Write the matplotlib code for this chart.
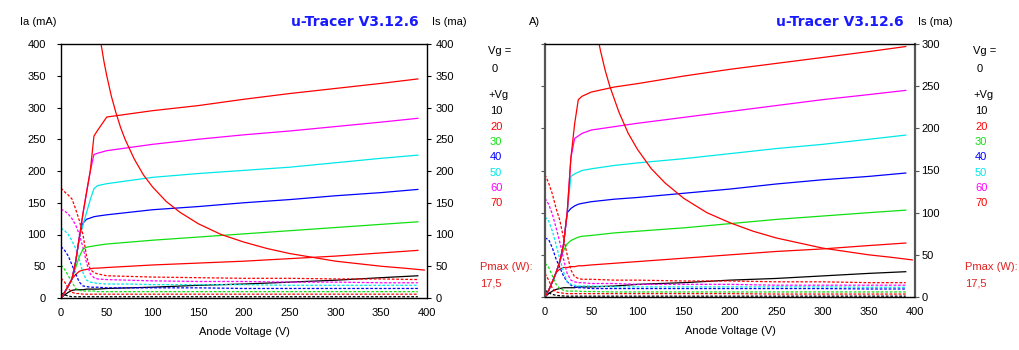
import matplotlib
matplotlib.use("Agg")
import matplotlib.pyplot as plt

plt.rcParams['font.family'] = ['Liberation Sans', 'DejaVu Sans']

W, H = 1019, 350

# ---------------------------------------------------------------
# data
# ---------------------------------------------------------------
VA = [0, 4, 8, 12, 16, 20, 24, 28, 32, 36, 40, 50, 75, 100, 150, 200, 250, 300, 350, 390]

# left tube: anode current Ia (mA), one list per grid step
A_IA_10 = [0, 5, 9, 12, 13, 13, 13, 14, 14, 14, 14, 15, 16, 17, 20, 22, 25, 28, 32, 35]
A_IA_20 = [0, 9, 19, 30, 37, 42, 44, 45, 46, 47, 47, 48, 50, 52, 55, 58, 62, 66, 71, 75]
A_IA_30 = [0, 9, 19, 30, 48, 65, 77, 80, 81, 82, 83, 85, 88, 91, 96, 101, 106, 111, 116, 120]
A_IA_40 = [0, 9, 19, 30, 57, 95, 118, 124, 126, 128, 129, 131, 135, 139, 144, 150, 155, 161, 166, 171]
A_IA_50 = [0, 9, 19, 30, 57, 95, 115, 135, 155, 172, 177, 180, 185, 190, 196, 201, 206, 213, 220, 225]
A_IA_60 = [0, 9, 19, 30, 57, 95, 133, 167, 200, 226, 228, 232, 237, 242, 250, 257, 263, 270, 277, 283]
A_IA_70 = [0, 9, 19, 30, 57, 95, 133, 167, 200, 255, 264, 285, 290, 295, 303, 313, 322, 330, 338, 345]

# left tube: screen current Is (mA)
A_IS_10 = [8, 5, 3, 2, 2, 2, 2, 2, 2, 2, 2, 2, 2, 2, 2, 2, 2, 2, 2, 2]
A_IS_20 = [31, 25, 15, 9, 7, 7, 6, 6, 6, 6, 6, 6, 6, 6, 6, 6, 6, 6, 6, 6]
A_IS_30 = [52, 45, 35, 25, 15, 12, 11, 11, 11, 11, 10, 10, 10, 10, 10, 10, 10, 10, 10, 10]
A_IS_40 = [81, 75, 66, 52, 38, 25, 19, 18, 17, 17, 17, 16, 16, 16, 16, 15, 15, 15, 15, 15]
A_IS_50 = [110, 106, 100, 90, 78, 60, 40, 28, 25, 24, 23, 22, 22, 21, 21, 21, 20, 20, 20, 20]
A_IS_60 = [140, 137, 132, 125, 115, 100, 80, 55, 38, 32, 30, 29, 28, 27, 26, 26, 25, 25, 24, 24]
A_IS_70 = [173, 167, 162, 156, 140, 122, 100, 65, 45, 40, 38, 35, 34, 33, 32, 31, 31, 30, 30, 29]

# right tube: anode current Ia (mA)
B_IA_10 = [0, 4, 7, 9, 10, 11, 11, 11, 11, 12, 12, 12, 13, 15, 17, 20, 22, 25, 28, 30]
B_IA_20 = [0, 8, 18, 29, 33, 35, 35, 36, 36, 37, 37, 38, 40, 42, 46, 50, 54, 57, 61, 64]
B_IA_30 = [0, 8, 18, 29, 42, 55, 63, 67, 69, 71, 72, 73, 76, 78, 82, 87, 92, 96, 100, 103]
B_IA_40 = [0, 8, 18, 29, 42, 62, 100, 105, 108, 110, 111, 113, 116, 118, 123, 128, 134, 139, 143, 147]
B_IA_50 = [0, 8, 18, 29, 42, 62, 100, 143, 146, 148, 150, 152, 156, 159, 164, 170, 176, 181, 187, 192]
B_IA_60 = [0, 8, 18, 29, 42, 62, 100, 165, 188, 191, 194, 198, 202, 206, 213, 220, 227, 234, 240, 245]
B_IA_70 = [0, 8, 18, 29, 42, 62, 100, 165, 205, 234, 238, 243, 249, 253, 262, 270, 277, 284, 291, 297]

# right tube: screen current Is (mA)
B_IS_10 = [8, 5, 3, 2, 1.5, 1.2, 1, 1, 1, 1, 1, 1, 1, 1, 1, 1, 1, 1, 1, 1]
B_IS_20 = [28, 20, 10, 6, 5, 4.5, 4, 4, 4, 4, 4, 4, 4, 4, 4, 4, 3.5, 3.5, 3.5, 3.5]
B_IS_30 = [40, 35, 25, 15, 10, 8, 7, 7, 7, 7, 6.5, 6.5, 6, 6, 6, 6, 6, 6, 6, 6]
B_IS_40 = [70, 68, 58, 45, 35, 25, 18, 14, 12, 11, 11, 10, 10, 10, 10, 10, 10, 10, 9.5, 9.5]
B_IS_50 = [95, 90, 78, 62, 45, 30, 18, 15, 14, 13, 13, 13, 12, 12, 12, 12, 12, 12, 11.5, 11.5]
B_IS_60 = [117, 110, 98, 82, 65, 45, 28, 20, 18, 17, 17, 16, 16, 15, 15, 15, 14, 14, 14, 14]
B_IS_70 = [145, 135, 122, 105, 91, 70, 50, 32, 24, 22, 21, 21, 20, 20, 19, 19, 18, 18, 17, 17]

# Pmax = 17,5 W limit curve
PMAX_V = [44, 47, 50, 55, 60, 65, 70, 80, 90, 100, 115, 130, 150, 175, 200, 225, 250, 275, 300, 325, 350, 375, 397]
PMAX_I = [398, 372, 350, 318, 292, 269, 250, 219, 194, 175, 152, 135, 117, 100, 88, 78, 70, 64, 58, 54, 50, 47, 44]

GRID_STEPS = ['10', '20', '30', '40', '50', '60', '70']
COLORS = ['#000000', '#ff0000', '#10e010', '#0000ff', '#00e8e8', '#ff00ff', '#ff0000']

A_IA = [A_IA_10, A_IA_20, A_IA_30, A_IA_40, A_IA_50, A_IA_60, A_IA_70]
A_IS = [A_IS_10, A_IS_20, A_IS_30, A_IS_40, A_IS_50, A_IS_60, A_IS_70]
B_IA = [B_IA_10, B_IA_20, B_IA_30, B_IA_40, B_IA_50, B_IA_60, B_IA_70]
B_IS = [B_IS_10, B_IS_20, B_IS_30, B_IS_40, B_IS_50, B_IS_60, B_IS_70]


def fx(x):
    return x / W


def fy(y):
    return 1 - y / H


def draw_panel(ax, ia_list, is_list, ymax, spine_col, show_left_labels):
    for ia, isc, c in zip(ia_list, is_list, COLORS):
        ax.plot(VA, ia, color=c, lw=0.9)
        ax.plot(VA, isc, color=c, lw=0.9, dashes=(2.2, 1.4))
    ax.plot(PMAX_V, PMAX_I, color='#ff0000', lw=0.9)

    ax.set_xlim(0, 400)
    ax.set_ylim(0, ymax)
    ax.set_xticks(range(0, 401, 50))
    ax.set_yticks(range(0, ymax + 1, 50))
    ax.tick_params(axis='x', length=0, pad=7, labelsize=8)
    ax.tick_params(axis='y', direction='out', length=3, pad=8, labelsize=8)
    if not show_left_labels:
        ax.set_yticklabels([])
    ax.set_xlabel('Anode Voltage (V)', fontsize=8, labelpad=7)

    for s in ax.spines.values():
        s.set_color('black')
        s.set_linewidth(1.0)
    ax.spines['left'].set_color(spine_col)
    ax.spines['right'].set_color(spine_col)
    if spine_col != 'black':
        ax.spines['left'].set_linewidth(1.6)
        ax.spines['right'].set_linewidth(1.6)

    ax2 = ax.twinx()
    ax2.set_ylim(0, ymax)
    ax2.set_yticks(range(0, ymax + 1, 50))
    ax2.tick_params(axis='y', direction='out', length=3,
                    pad=3 if show_left_labels else 1.5, labelsize=8)
    for s in ax2.spines.values():
        s.set_visible(False)
    ax.tick_params(axis='y', colors=spine_col, labelcolor='black')
    ax2.tick_params(axis='y', colors=spine_col, labelcolor='black')


def legend(x0, col_shift):
    fig.text(fx(x0), fy(51), 'Vg =', fontsize=8, va='center')
    fig.text(fx(x0 + 4), fy(69), '0', fontsize=8, va='center')
    fig.text(fx(x0), fy(95), '+Vg', fontsize=8, va='center')
    ys = [111, 127, 142, 157, 173, 188, 203]
    for g, c, y in zip(GRID_STEPS, COLORS, ys):
        fig.text(fx(x0 + 2), fy(y), g, fontsize=8, va='center', color=c)
    fig.text(fx(x0 - col_shift), fy(267), 'Pmax (W):', fontsize=8, va='center', color='#e02020')
    fig.text(fx(x0 - col_shift), fy(283), '17,5', fontsize=8, va='center', color='#e02020')


fig = plt.figure(figsize=(W / 100, H / 100), dpi=100)

axA = fig.add_axes([fx(61), fy(298), (427 - 61) / W, (298 - 44) / H])
draw_panel(axA, A_IA, A_IS, 400, 'black', True)

axB = fig.add_axes([fx(545), fy(297), (915 - 545) / W, (297 - 44) / H])
draw_panel(axB, B_IA, B_IS, 300, '#555555', False)

# header texts
fig.text(fx(20), fy(22), 'Ia (mA)', fontsize=8, va='center')
fig.text(fx(355), fy(22), 'u-Tracer V3.12.6', fontsize=10, va='center', ha='center',
         color='#1a1aff', family=['DejaVu Sans'], weight='bold')
fig.text(fx(432), fy(22), 'Is (ma)', fontsize=8, va='center')

fig.text(fx(529), fy(22), 'A)', fontsize=8, va='center')
fig.text(fx(840), fy(22), 'u-Tracer V3.12.6', fontsize=10, va='center', ha='center',
         color='#1a1aff', family=['DejaVu Sans'], weight='bold')
fig.text(fx(918), fy(22), 'Is (ma)', fontsize=8, va='center')

legend(488, 8)
legend(973, 8)

fig.savefig('out.png', dpi=100)
